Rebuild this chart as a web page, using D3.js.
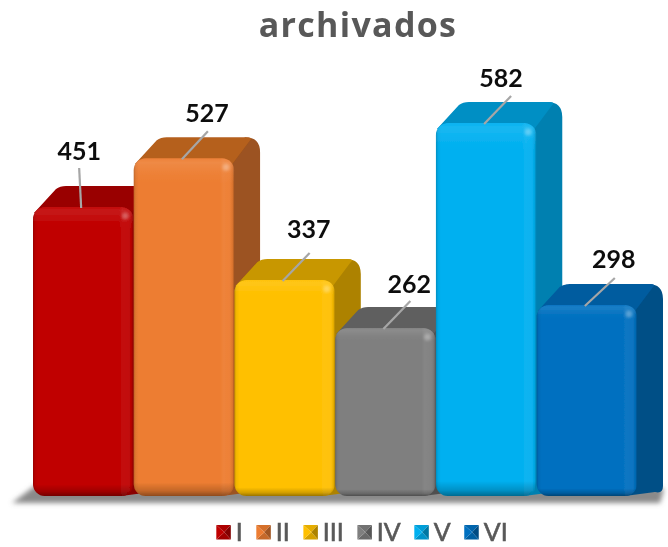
<!DOCTYPE html>
<html><head><meta charset="utf-8">
<script src="https://cdn.jsdelivr.net/npm/d3@7/dist/d3.min.js"></script>
<style>html,body{margin:0;padding:0;background:#fff}svg{display:block}</style></head>
<body><div id="c"></div>
<script>
const titleText = "archivados";
const categories = ["I","II","III","IV","V","VI"];
const values = [451,527,337,262,582,298];
const frontColors = ["#c00000","#ed7d31","#ffc000","#7f7f7f","#00b0f0","#0070c0"];
const topColors = ["#990000","#b5601f","#c89700","#5f5f5f","#008fc4","#005c9f"];
const sideColors = ["#8a0000","#9c5220","#ad8200","#505050","#0080b0","#004f86"];

const W=668,H=547;
const svg=d3.select("#c").append("svg").attr("width",W).attr("height",H);
const defs=svg.append("defs");
defs.append("filter").attr("id","soft").attr("x","-5%").attr("y","-5%").attr("width","110%").attr("height","110%")
  .append("feGaussianBlur").attr("stdDeviation",0.5);
defs.append("filter").attr("id","shadow").attr("x","-5%").attr("y","-50%").attr("width","110%").attr("height","200%")
  .append("feGaussianBlur").attr("stdDeviation",2.6);
defs.append("filter").attr("id","spot").attr("x","-50%").attr("y","-50%").attr("width","200%").attr("height","200%")
  .append("feGaussianBlur").attr("stdDeviation",1.6);
const vg=defs.append("linearGradient").attr("id","vb").attr("x1",0).attr("y1",0).attr("x2",0).attr("y2",1);
[[0,"#fff",.03],[.012,"#fff",.10],[.045,"#fff",.03],[.075,"#fff",0],[.96,"#000",0],[.985,"#000",.18],[1,"#000",.4]]
 .forEach(s=>vg.append("stop").attr("offset",s[0]).attr("stop-color",s[1]).attr("stop-opacity",s[2]));
const hg=defs.append("linearGradient").attr("id","hb").attr("x1",0).attr("y1",0).attr("x2",1).attr("y2",0);
[[0,"#000",.2],[.02,"#000",.05],[.05,"#000",0],[.86,"#fff",0],[.89,"#fff",.05],[.95,"#fff",.03],[.985,"#000",.08],[1,"#000",.28]]
 .forEach(s=>hg.append("stop").attr("offset",s[0]).attr("stop-color",s[1]).attr("stop-opacity",s[2]));

const root=svg.append("g").attr("filter","url(#soft)");
const font="Lato,'Open Sans',sans-serif";

const x=d3.scaleBand().domain(categories).range([33,637]).paddingInner(0.004).paddingOuter(0);
const y=d3.scaleLinear().domain([0,600]).range([496,111.5]);
const dx=26, dy=-21, r=12;
const base=y(0);

// floor shadow
root.append("path")
 .attr("d",d3.line()([[12,503],[36,485],[640,485],[664,489],[660,503]])+"Z")
 .attr("fill","#8a8a8a").attr("filter","url(#shadow)");

root.append("text").attr("x",358).attr("y",37).attr("text-anchor","middle")
 .attr("font-family","'Open Sans',Lato,sans-serif").attr("font-weight",700).attr("font-size",34)
 .attr("letter-spacing",1.3).attr("fill","#595959")
 .text(titleText);

categories.forEach((c,i)=>{
  const g=root.append("g");
  const x0=x(c), bw=x.bandwidth(), x1=x0+bw, t=y(values[i]), R=15;
  // side face
  g.append("path").attr("d",`M${x1-r},${t}L${x1+dx-R},${t+dy}Q${x1+dx},${t+dy} ${x1+dx},${t+dy+R}L${x1+dx},${base+dy+R-4}Q${x1+dx},${base+dy+R+4} ${x1+dx-8},${base-4}L${x1-r},${base}Z`)
   .attr("fill",sideColors[i]);
  // top face
  g.append("path").attr("d",`M${x0+1},${t+6}L${x0+dx-3},${t+dy+3}Q${x0+dx+1},${t+dy} ${x0+dx+7},${t+dy}L${x1+dx-R},${t+dy}Q${x1+dx-6},${t+dy} ${x1+dx-10},${t+dy+3}L${x1-2},${t+6}Z`)
   .attr("fill",topColors[i]);
  // front face with bevels
  const front=()=>g.append("rect").attr("x",x0).attr("y",t).attr("width",bw).attr("height",base-t).attr("rx",r).attr("ry",r);
  front().attr("fill",frontColors[i]);
  front().attr("fill","url(#hb)");
  front().attr("fill","url(#vb)");
  g.append("circle").attr("cx",x1-8).attr("cy",t+9).attr("r",3.5).attr("fill","#fff").attr("opacity",.3).attr("filter","url(#spot)");
});

// leader lines and labels, drawn over every bar
const leaderRise=[40,28,28,28,28,28];
const leaderRun=[-2,26,27,27,27,30];
const labelLift=[8,9,15,8,9,10];
const labelShift=[0,0,0,0,-9,0];
categories.forEach((c,i)=>{
  const cx=x(c)+x.bandwidth()/2-2, t=y(values[i])+1;
  const ex=cx+leaderRun[i], ey=t-leaderRise[i];
  root.append("line").attr("x1",cx).attr("y1",t).attr("x2",ex).attr("y2",ey)
   .attr("stroke","#a6a6a6").attr("stroke-width",2.2);
  root.append("text").attr("x",ex-1+labelShift[i]+(i===0?1:0)).attr("y",ey-labelLift[i])
   .attr("text-anchor","middle").attr("font-family",font).attr("font-weight",700)
   .attr("font-size",25).attr("fill","#0d0d0d").text(values[i]);
});

// legend
const legend=root.append("g");
const sq=14.5, ly=525, gapText=5, gapItem=13.5;
const labels=categories.map(c=>legend.append("text").attr("font-family",font).attr("font-size",25)
  .attr("fill","#595959").attr("stroke","#595959").attr("stroke-width",.6).attr("y",ly+15.5).text(c));
const widths=labels.map(l=>l.node().getComputedTextLength());
const total=d3.sum(widths)+categories.length*(sq+gapText)+(categories.length-1)*gapItem;
let lx=362-total/2;
categories.forEach((c,i)=>{
  const p=[[lx,ly],[lx+sq,ly],[lx+sq,ly+sq],[lx,ly+sq]], m=[lx+sq*.55,ly+sq*.5];
  const shade=[d3.color(frontColors[i]).darker(.3),d3.color(frontColors[i]).darker(1.1),d3.color(frontColors[i]).darker(.5),frontColors[i]];
  [[0,1],[1,2],[2,3],[3,0]].forEach((e,k)=>{
    legend.append("path").attr("d",d3.line()([p[e[0]],p[e[1]],m])+"Z").attr("fill",shade[k]);
  });
  labels[i].attr("x",lx+sq+gapText);
  lx+=sq+gapText+widths[i]+gapItem;
});
</script></body></html>
